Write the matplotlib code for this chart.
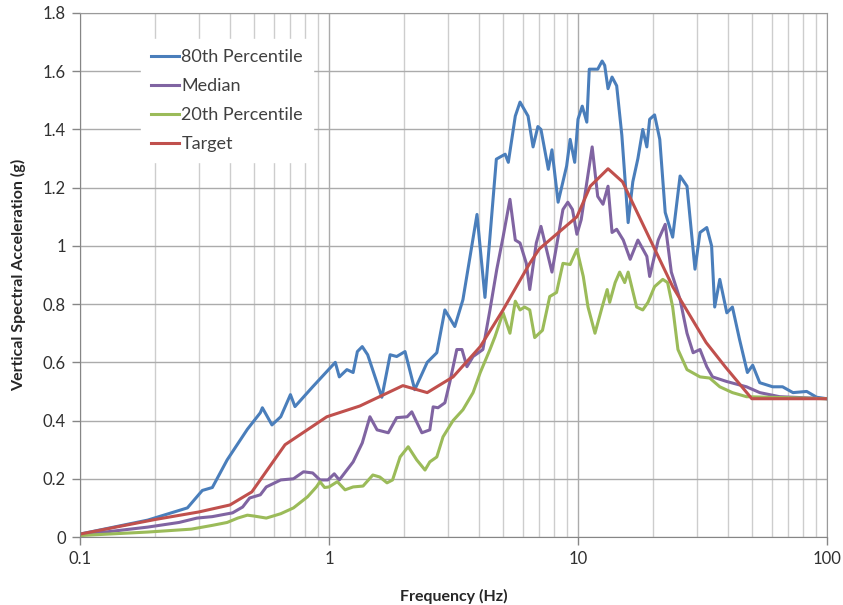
import matplotlib
matplotlib.use("Agg")
import matplotlib.pyplot as plt
from matplotlib.ticker import FixedLocator, NullFormatter, LogLocator

# ---- data ----
freq_p80 = [0.1, 0.187, 0.27, 0.31, 0.34, 0.39, 0.43, 0.47, 0.53, 0.54, 0.59, 0.64, 0.70, 0.73,
            0.86, 1.06, 1.10, 1.18, 1.25, 1.30, 1.36, 1.43, 1.63, 1.76, 1.87, 2.02, 2.21, 2.48,
            2.71, 2.92, 3.2, 3.45, 3.93, 4.23, 4.7, 5.1, 5.25, 5.6, 5.85, 6.3, 6.6, 6.9, 7.1,
            7.6, 7.86, 8.32, 9.0, 9.3, 9.7, 10.0, 10.4, 10.85, 11.1, 12.0, 12.5, 12.8, 13.2,
            13.7, 14.3, 15.0, 15.9, 16.6, 17.4, 18.2, 18.9, 19.4, 20.3, 21.3, 22.4, 24.0, 25.7,
            27.4, 29.5, 30.9, 32.9, 34.4, 35.4, 37.1, 39.6, 41.7, 44.5, 47.9, 50.3, 53.7, 60.5,
            66.3, 73.0, 82.9, 90.9, 100]
p80 = [0.01, 0.058, 0.10, 0.16, 0.17, 0.265, 0.32, 0.37, 0.427, 0.444, 0.385, 0.413, 0.489, 0.448,
       0.516, 0.60, 0.55, 0.575, 0.565, 0.637, 0.654, 0.626, 0.48, 0.626, 0.62, 0.637, 0.506, 0.60,
       0.633, 0.78, 0.723, 0.815, 1.108, 0.823, 1.298, 1.315, 1.287, 1.446, 1.494, 1.446, 1.34, 1.41, 1.40,
       1.263, 1.33, 1.15, 1.274, 1.366, 1.287, 1.435, 1.48, 1.425, 1.607, 1.607, 1.635, 1.62, 1.54,
       1.58, 1.55, 1.38, 1.08, 1.22, 1.30, 1.40, 1.34, 1.435, 1.45, 1.366, 1.115, 1.03, 1.24,
       1.205, 0.92, 1.046, 1.063, 1.0, 0.79, 0.885, 0.77, 0.79, 0.68, 0.565, 0.59, 0.53, 0.516,
       0.516, 0.496, 0.50, 0.48, 0.475]

freq_med = [0.1, 0.187, 0.25, 0.295, 0.34, 0.41, 0.45, 0.48, 0.53, 0.56, 0.64, 0.72, 0.79, 0.86,
            0.92, 0.99, 1.05, 1.10, 1.25, 1.36, 1.46, 1.56, 1.73, 1.87, 2.06, 2.15, 2.36, 2.54,
            2.62, 2.74, 2.92, 3.06, 3.26, 3.42, 3.58, 3.79, 4.15, 4.43, 4.72, 5.0, 5.33, 5.6,
            5.85, 6.2, 6.4, 6.8, 7.1, 7.86, 8.7, 9.1, 9.5, 9.9, 10.3, 11.4, 12.0, 12.6, 13.2,
            13.7, 14.3, 15.2, 16.2, 17.4, 18.9, 19.4, 21.0, 22.4, 23.7, 25.7, 27.4, 29.0, 30.9,
            32.9, 34.7, 39.6, 47.5, 53.7, 64.5, 100]
median = [0.007, 0.034, 0.05, 0.065, 0.07, 0.083, 0.103, 0.134, 0.145, 0.172, 0.196, 0.20, 0.224, 0.22,
          0.196, 0.196, 0.217, 0.196, 0.258, 0.323, 0.413, 0.368, 0.358, 0.41, 0.413, 0.43, 0.358, 0.368,
          0.447, 0.444, 0.461, 0.534, 0.644, 0.644, 0.585, 0.62, 0.644, 0.78, 0.92, 1.03, 1.16, 1.02,
          1.01, 0.94, 0.85, 1.01, 1.067, 0.91, 1.125, 1.15, 1.125, 1.04, 1.09, 1.34, 1.17, 1.143, 1.205,
          1.046, 1.057, 1.02, 0.954, 1.02, 0.964, 0.895, 1.02, 1.074, 0.91, 0.816, 0.70, 0.633, 0.644,
          0.585, 0.55, 0.534, 0.516, 0.496, 0.482, 0.475]

freq_p20 = [0.1, 0.187, 0.28, 0.34, 0.39, 0.43, 0.47, 0.5, 0.56, 0.64, 0.72, 0.82, 0.89, 0.92,
            0.96, 1.0, 1.08, 1.16, 1.25, 1.37, 1.5, 1.6, 1.71, 1.8, 1.93, 2.08, 2.25, 2.43, 2.54,
            2.71, 2.87, 3.15, 3.45, 3.79, 4.05, 4.43, 4.64, 5.0, 5.33, 5.6, 5.85, 6.1, 6.4, 6.7,
            7.2, 7.7, 8.2, 8.7, 9.3, 9.9, 10.5, 10.97, 11.7, 12.5, 13.1, 13.4, 14.1, 14.7, 15.4,
            15.9, 17.2, 18.2, 19.1, 20.3, 21.9, 22.9, 24.0, 25.2, 27.4, 30.9, 33.8, 37.1, 41.7,
            47.5, 100]
p20 = [0.005, 0.017, 0.027, 0.04, 0.05, 0.065, 0.075, 0.072, 0.065, 0.08, 0.10, 0.138, 0.172, 0.19,
       0.17, 0.172, 0.19, 0.162, 0.172, 0.175, 0.213, 0.206, 0.186, 0.196, 0.275, 0.31, 0.265, 0.23, 0.258,
       0.275, 0.344, 0.40, 0.437, 0.496, 0.565, 0.644, 0.688, 0.77, 0.70, 0.81, 0.78, 0.79, 0.78, 0.685,
       0.71, 0.826, 0.84, 0.94, 0.936, 0.988, 0.895, 0.79, 0.70, 0.79, 0.85, 0.806, 0.874, 0.91, 0.874,
       0.91, 0.79, 0.78, 0.806, 0.86, 0.885, 0.874, 0.79, 0.644, 0.575, 0.55, 0.546, 0.516, 0.496,
       0.482, 0.475]

freq_tgt = [0.1, 0.2, 0.3, 0.4, 0.49, 0.666, 0.98, 1.33, 1.98, 2.48, 3.15, 4.05, 5.0, 6.4, 7.0, 9.9,
            11.2, 13.2, 15.1, 24.0, 32.7, 39.0, 49.9, 100]
target = [0.01, 0.06, 0.086, 0.11, 0.155, 0.317, 0.413, 0.45, 0.52, 0.496, 0.55, 0.654, 0.78, 0.94,
          0.99, 1.10, 1.205, 1.265, 1.22, 0.86, 0.668, 0.585, 0.475, 0.475]

series_names = ["80th Percentile", "Median", "20th Percentile", "Target"]
series_colors = ["#4A7EBB", "#8064A2", "#9BBB59", "#C0504D"]
x_ticks = [0.1, 1, 10, 100]
x_tick_labels = ["0.1", "1", "10", "100"]
y_ticks = [0, 0.2, 0.4, 0.6, 0.8, 1.0, 1.2, 1.4, 1.6, 1.8]
y_tick_labels = ["0", "0.2", "0.4", "0.6", "0.8", "1", "1.2", "1.4", "1.6", "1.8"]

plt.rcParams['font.family'] = ['Lato', 'DejaVu Sans']
fig = plt.figure(figsize=(8.43, 6.05), dpi=100)
ax = fig.add_axes([80/843, 68/605, 747/843, 524/605])

data = [(freq_p80, p80), (freq_med, median), (freq_p20, p20), (freq_tgt, target)]
for (fx, fy), name, col in zip(data, series_names, series_colors):
    ax.plot(fx, fy, color=col, lw=2.2, label=name, solid_joinstyle='round')

ax.set_xscale('log')
ax.set_xlim(0.1, 100)
ax.set_ylim(0, 1.8)
ax.xaxis.set_major_locator(FixedLocator(x_ticks))
ax.set_xticklabels(x_tick_labels)
ax.xaxis.set_minor_locator(LogLocator(base=10, subs=range(2, 10)))
ax.xaxis.set_minor_formatter(NullFormatter())
ax.set_yticks(y_ticks)
ax.set_yticklabels(y_tick_labels)
ax.grid(True, which='major', color='#ABABAB', lw=1.0)
ax.grid(True, which='minor', axis='x', color='#CDCDCD', lw=1.0)
ax.set_axisbelow(True)
for s in ax.spines.values():
    s.set_color('#9A9A9A')
ax.spines['left'].set_color('#868686')
ax.spines['bottom'].set_color('#868686')
ax.tick_params(axis='both', which='major', length=6, width=1, color='#868686',
               labelsize=12, labelcolor='#303030', pad=4)
ax.tick_params(axis='x', which='minor', length=0)

ax.set_xlabel("Frequency (Hz)", fontsize=11.5, fontweight='bold', color='#262626', labelpad=16)
ax.set_ylabel("Vertical Spectral Acceleration (g)", fontsize=11.5, fontweight='bold', color='#262626', labelpad=12)

leg = ax.legend(loc='upper left', bbox_to_anchor=(0.082, 0.950), frameon=True, fancybox=False,
                framealpha=1.0, edgecolor='white', fontsize=13, handlelength=1.55,
                handletextpad=0.12, labelspacing=0.72, borderpad=0.55, borderaxespad=0)
for t in leg.get_texts():
    t.set_color('#404040')

fig.savefig("out.png", dpi=100)
